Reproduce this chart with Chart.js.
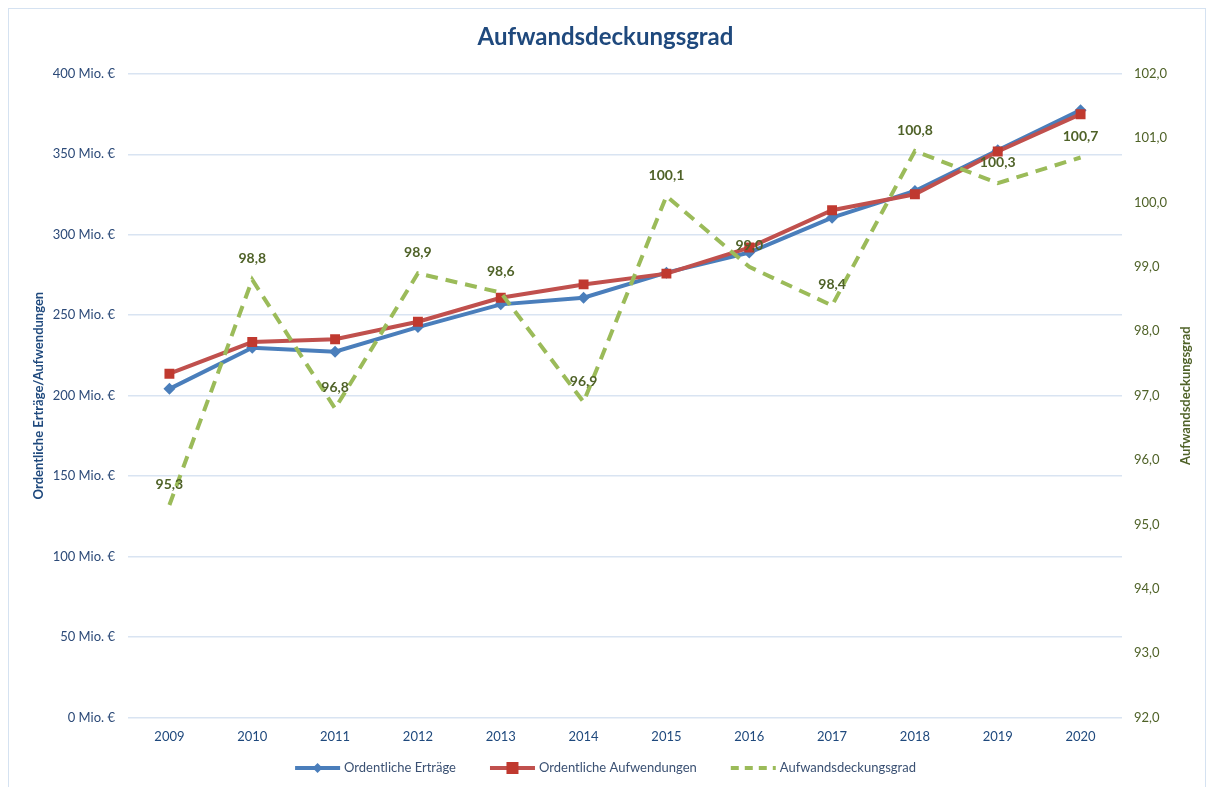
<!DOCTYPE html>
<html>
<head>
<meta charset="utf-8">
<script src="https://cdn.jsdelivr.net/npm/chart.js@4.4.0/dist/chart.umd.min.js"></script>
<style>
  html, body { margin: 0; padding: 0; background: #fff; }
  #frame { position: absolute; left: 8px; top: 8px; width: 1196px; height: 800px; border: 1px solid #d5e2f1; }
  #wrap { position: absolute; left: 0; top: 0; width: 1211px; height: 787px; }
</style>
</head>
<body>
<div id="frame"></div>
<div id="wrap"><canvas id="chart"></canvas></div>
<script>
const years = ['2009', '2010', '2011', '2012', '2013', '2014', '2015', '2016', '2017', '2018', '2019', '2020'];
const ertraege = [204.2, 229.7, 227.3, 242.6, 256.7, 260.8, 276.4, 288.9, 310.6, 327.2, 352.5, 377.4];
const aufwendungen = [213.6, 233.3, 235.0, 245.9, 260.8, 269.1, 275.8, 292.0, 315.2, 325.1, 351.7, 374.9];
const deckungsgrad = [95.3, 98.8, 96.8, 98.9, 98.6, 96.9, 100.1, 99.0, 98.4, 100.8, 100.3, 100.7];

const blue = '#4a7ebb';
const red = '#c0504d';
const green = '#9bbb59';
const olive = '#4f6228';
const navy = '#1f497d';
const font = 'Lato';

// green value labels above the dashed line
const valueLabels = {
  id: 'valueLabels',
  afterDatasetsDraw(chart) {
    const meta = chart.getDatasetMeta(2);
    const ctx = chart.ctx;
    ctx.save();
    ctx.font = 'bold 14px ' + font;
    ctx.fillStyle = olive;
    ctx.textAlign = 'center';
    ctx.textBaseline = 'middle';
    meta.data.forEach((pt, i) => {
      ctx.fillText(deckungsgrad[i].toFixed(1).replace('.', ','), pt.x, pt.y - 21);
    });
    ctx.restore();
  }
};

// right axis title reads bottom-to-top, and an excel-like legend with line + marker
const extras = {
  id: 'extras',
  afterDraw(chart) {
    const ctx = chart.ctx;
    const area = chart.chartArea;
    ctx.save();
    ctx.translate(1186, (area.top + area.bottom) / 2);
    ctx.rotate(-Math.PI / 2);
    ctx.font = 'bold 13px ' + font;
    ctx.fillStyle = olive;
    ctx.textAlign = 'center';
    ctx.textBaseline = 'middle';
    ctx.fillText('Aufwandsdeckungsgrad', 0, 0);
    ctx.restore();

    const markers = ['diamond', 'square', null];
    const lineLen = 45, gapText = 4, gapItem = 34;
    const y = 768;
    ctx.save();
    ctx.font = '13px ' + font;
    const ds = chart.data.datasets;
    const widths = ds.map(d => ctx.measureText(d.label).width);
    let total = 0;
    widths.forEach(w => { total += lineLen + gapText + w; });
    total += gapItem * (ds.length - 1);
    let x = chart.width / 2 - total / 2;
    ds.forEach((d, i) => {
      ctx.strokeStyle = d.borderColor;
      ctx.lineWidth = 4;
      ctx.setLineDash(d.borderDash ? [8, 6] : []);
      ctx.beginPath();
      ctx.moveTo(x, y);
      ctx.lineTo(x + lineLen, y);
      ctx.stroke();
      ctx.setLineDash([]);
      const cx = x + lineLen / 2;
      ctx.fillStyle = d.backgroundColor;
      if (markers[i] === 'diamond') {
        ctx.beginPath();
        ctx.moveTo(cx, y - 5); ctx.lineTo(cx + 5, y); ctx.lineTo(cx, y + 5); ctx.lineTo(cx - 5, y);
        ctx.closePath();
        ctx.fill();
      } else if (markers[i] === 'square') {
        ctx.fillRect(cx - 6, y - 6, 12, 12);
      }
      ctx.fillStyle = '#3b5173';
      ctx.textAlign = 'left';
      ctx.textBaseline = 'middle';
      ctx.fillText(d.label, x + lineLen + gapText, y);
      x += lineLen + gapText + widths[i] + gapItem;
    });
    ctx.restore();
  }
};

const ctx = document.getElementById('chart').getContext('2d');
const chart = new Chart(ctx, {
  type: 'line',
  data: {
    labels: years,
    datasets: [{
      label: 'Ordentliche Erträge',
      data: ertraege,
      yAxisID: 'y',
      borderColor: blue,
      backgroundColor: blue,
      borderWidth: 4,
      pointStyle: 'rectRot',
      pointRadius: 6,
      pointBorderWidth: 0,
      order: 3
    }, {
      label: 'Ordentliche Aufwendungen',
      data: aufwendungen,
      yAxisID: 'y',
      borderColor: red,
      backgroundColor: '#c0392f',
      borderWidth: 4,
      pointStyle: 'rect',
      pointRadius: 7,
      pointBorderWidth: 0,
      order: 2
    }, {
      label: 'Aufwandsdeckungsgrad',
      data: deckungsgrad,
      yAxisID: 'y1',
      borderColor: green,
      backgroundColor: green,
      borderWidth: 4,
      borderDash: [12, 8],
      pointRadius: 0,
      order: 1
    }]
  },
  options: {
    responsive: true,
    maintainAspectRatio: false,
    animation: false,
    layout: {
      padding: { top: 0, left: 0, right: 0, bottom: 38 }
    },
    plugins: {
      title: {
        display: true,
        text: 'Aufwandsdeckungsgrad',
        color: navy,
        font: { family: font, size: 24, weight: 'bold' },
        padding: { top: 23, bottom: 22 }
      },
      legend: { display: false },
      tooltip: { enabled: false }
    },
    scales: {
      x: {
        offset: true,
        grid: { display: false },
        border: { display: false },
        ticks: {
          color: navy,
          padding: 4,
          font: { family: font, size: 13 }
        }
      },
      y: {
        position: 'left',
        min: 0,
        max: 400,
        afterFit(scale) { scale.width = 128; },
        grid: { color: '#d9e4f2', lineWidth: 1.5, drawTicks: false },
        border: { display: false },
        ticks: {
          stepSize: 50,
          padding: 13,
          color: '#2c4a78',
          font: { family: font, size: 13 },
          callback: v => v + ' Mio. €'
        },
        title: {
          display: true,
          text: 'Ordentliche Erträge/Aufwendungen',
          color: navy,
          font: { family: font, size: 13, weight: 'bold' },
          padding: { top: 31, bottom: 0 }
        }
      },
      y1: {
        position: 'right',
        min: 92,
        max: 102,
        afterFit(scale) { scale.width = 89; },
        grid: { drawOnChartArea: false, drawTicks: false },
        border: { display: false },
        ticks: {
          stepSize: 1,
          padding: 12,
          color: olive,
          font: { family: font, size: 13 },
          callback: v => v.toFixed(1).replace('.', ',')
        }
      }
    }
  },
  plugins: [valueLabels, extras]
});
</script>
</body>
</html>
